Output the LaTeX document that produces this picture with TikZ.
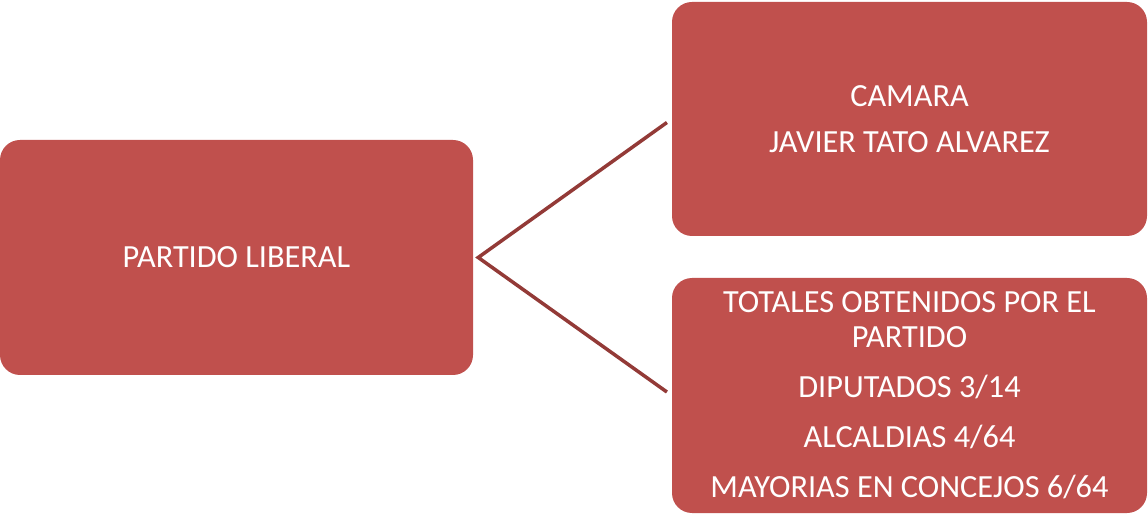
\documentclass[tikz,border=0pt]{standalone}
\usepackage{fontspec}
\setmainfont{Carlito}
\usetikzlibrary{calc}
\definecolor{boxred}{HTML}{C0504D}
\definecolor{linered}{HTML}{933A37}
\begin{document}
\begin{tikzpicture}[x=1pt,y=1pt,
  box/.style={fill=boxred, rounded corners=20pt, text=white, align=center,
    font=\fontsize{32.3}{35}\selectfont, inner sep=0pt},
  link/.style={draw=linered, line width=3.5pt, line join=miter}]
\useasboundingbox (0,0) rectangle (1148,514);
\node[box, minimum width=473pt, minimum height=235pt] (L) at (236.5,256.5) {PARTIDO LIBERAL};
\node[box, minimum width=475pt, minimum height=234pt] (T) at (909.5,395) {CAMARA\\[11pt]JAVIER TATO ALVAREZ};
\node[box, minimum width=475pt, minimum height=235pt] (B) at (909.5,118.5)
  {TOTALES OBTENIDOS POR EL\\PARTIDO\\[15pt]DIPUTADOS 3/14\\[15pt]ALCALDIAS 4/64\\[15pt]MAYORIAS EN CONCEJOS 6/64};
\coordinate (hub) at ($(L.east)+(5,0)$);
\draw[link, shorten <=6pt, shorten >=6pt] (T.west) -- (hub) -- (B.west);
\end{tikzpicture}
\end{document}
